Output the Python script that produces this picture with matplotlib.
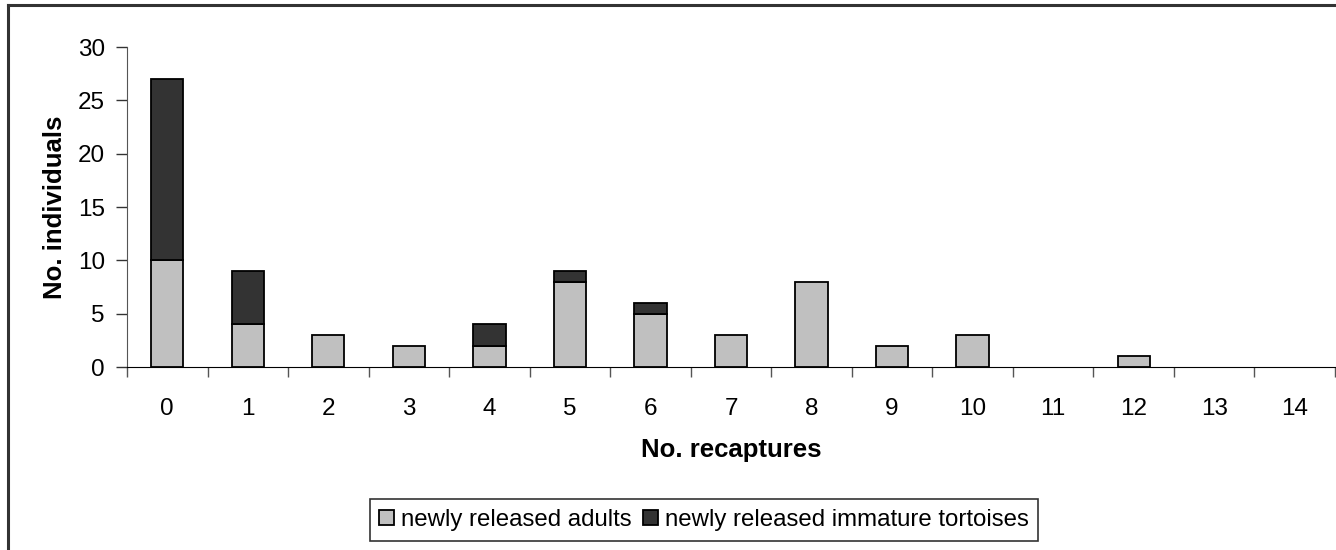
import matplotlib
matplotlib.use("Agg")
import matplotlib.pyplot as plt
from matplotlib.lines import Line2D
import numpy as np

plt.rcParams['font.family'] = ['Liberation Sans', 'DejaVu Sans']

categories = ['0', '1', '2', '3', '4', '5', '6', '7', '8', '9', '10', '11', '12', '13', '14']
adults = [10, 4, 3, 2, 2, 8, 5, 3, 8, 2, 3, 0, 1, 0, 0]
immature = [17, 5, 0, 0, 2, 1, 1, 0, 0, 0, 0, 0, 0, 0, 0]
y_ticks = [0, 5, 10, 15, 20, 25, 30]

W, H = 1336, 550
fig = plt.figure(figsize=(W / 100, H / 100), dpi=100)
ax = fig.add_axes([127 / W, 1 - 367 / H, (1335 - 127) / W, (367 - 47) / H])

x = np.arange(len(categories))
lw_a = [1.3 if v > 0 else 0 for v in adults]
lw_i = [1.3 if v > 0 else 0 for v in immature]
ax.bar(x, adults, width=0.4, color='#C0C0C0', edgecolor='black', linewidth=lw_a,
       label='newly released adults', zorder=3)
ax.bar(x, immature, width=0.4, bottom=adults, color='#333333', edgecolor='black',
       linewidth=lw_i, label='newly released immature tortoises', zorder=3)

ax.set_xlim(-0.5, len(categories) - 0.5)
ax.set_ylim(0, 30)
ax.set_yticks(y_ticks)
ax.set_xticks(x)
ax.set_xticklabels(categories)
ax.set_xticks(np.arange(-0.5, len(categories), 1.0), minor=True)
ax.tick_params(axis='x', which='major', length=0, pad=22, labelsize=17.5)
ax.tick_params(axis='x', which='minor', length=7, width=1, color='#555555', direction='out')
ax.tick_params(axis='y', length=8, width=1, color='#333333', pad=8, labelsize=17.5)

for s in ['top', 'right']:
    ax.spines[s].set_visible(False)
ax.spines['left'].set_color('#555555')
ax.spines['bottom'].set_color('black')

ax.set_xlabel('No. recaptures', fontsize=18.5, fontweight='bold', labelpad=13)
ax.set_ylabel('No. individuals', fontsize=18.5, fontweight='bold', labelpad=8)

leg = fig.legend(loc='center', bbox_to_anchor=(704 / W, 1 - 520 / H), ncol=2,
                 fontsize=17.3, frameon=True, fancybox=False, edgecolor='black',
                 handlelength=0.6, handleheight=0.6, handletextpad=0.3,
                 columnspacing=0.5, borderpad=0.4, borderaxespad=0)
leg.get_frame().set_linewidth(1.2)

# outer chart border (top and left visible)
fig.add_artist(Line2D([8 / W, 1.0], [1 - 5 / H, 1 - 5 / H], color='#333333', linewidth=2.2))
fig.add_artist(Line2D([8 / W, 8 / W], [0, 1 - 5 / H], color='#333333', linewidth=2.2))

fig.savefig('out.png', dpi=100, facecolor='white')
